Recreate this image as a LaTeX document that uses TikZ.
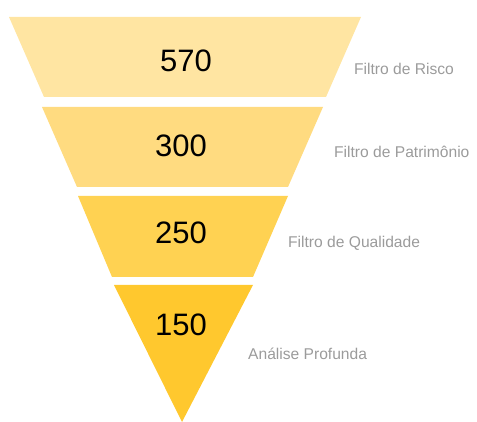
\documentclass[tikz,border=0pt]{standalone}
\usepackage{fontspec}
\setmainfont{Liberation Sans}
\definecolor{bandA}{RGB}{255,229,162}
\definecolor{bandB}{RGB}{255,219,128}
\definecolor{bandC}{RGB}{255,210,82}
\definecolor{bandD}{RGB}{255,200,46}
\definecolor{labelgray}{RGB}{155,155,155}
\tikzset{
  count/.style={inner sep=0pt, font=\fontsize{31}{31}\selectfont},
  stage/.style={inner sep=0pt, anchor=west, text=labelgray, font=\fontsize{15.6}{16}\selectfont}
}
\begin{document}
\begin{tikzpicture}[x=1pt,y=-1pt]
\useasboundingbox (0,0) rectangle (477,422);
% bands of funnel
\fill[bandA] (9,17) -- (361,17) -- (326,97) -- (44,97) -- cycle;
\fill[bandB] (42,107) -- (323,107) -- (288,187) -- (77,187) -- cycle;
\fill[bandC] (78,196) -- (288,196) -- (253,277) -- (112,277) -- cycle;
\fill[bandD] (114,285) -- (253,285) -- (182,422) -- cycle;
% numbers in the bands
\node[count] (n570) at (186,61) {570};
\node[count] (n300) at (181,146) {300};
\node[count] (n250) at (181,233) {250};
\node[count] (n150) at (181,325) {150};
% names of the stages
\node[stage] (risco) at (354,69) {Filtro de Risco};
\node[stage] (patrimonio) at (334,152) {Filtro de Patrimônio};
\node[stage] (qualidade) at (288,243) {Filtro de Qualidade};
\node[stage] (profunda) at (248,354) {Análise Profunda};
\end{tikzpicture}
\end{document}
